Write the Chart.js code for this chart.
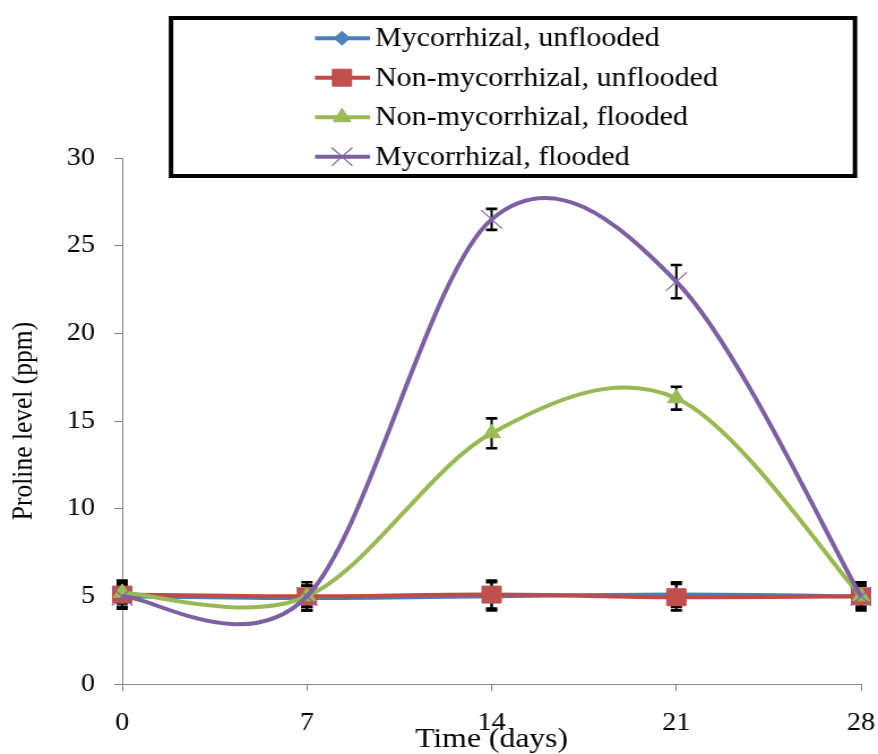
<!DOCTYPE html>
<html><head><meta charset="utf-8">
<script src="https://cdn.jsdelivr.net/npm/chart.js@4/dist/chart.umd.min.js"></script>
<style>html,body{margin:0;padding:0;background:#fff;overflow:hidden}canvas{display:block}</style>
</head>
<body>
<canvas id="c" width="776" height="754" style="width:878px;height:754px"></canvas>
<script>
const FONT = "'Liberation Serif', 'Times New Roman', serif";
const SX = 878 / 776;

// ---- data ----
const days = [0, 7, 14, 21, 28];
const yTickValues = [0, 5, 10, 15, 20, 25, 30];
const seriesLabels = ['Mycorrhizal, unflooded', 'Non-mycorrhizal, unflooded', 'Non-mycorrhizal, flooded', 'Mycorrhizal, flooded'];
const mycUnflooded     = [5.0, 4.9, 5.0, 5.1, 5.0];
const nonMycUnflooded  = [5.1, 5.0, 5.1, 4.95, 5.0];
const nonMycFlooded    = [5.2, 5.0, 14.3, 16.3, 5.0];
const mycFlooded       = [5.0, 5.0, 26.5, 22.95, 5.0];
const errMycUnflooded    = [0.7, 0.7, 0.8, 0.7, 0.7];
const errNonMycUnflooded = [0.8, 0.8, 0.8, 0.75, 0.8];
const errNonMycFlooded   = [0.6, 0.6, 0.85, 0.65, 0.6];
const errMycFlooded      = [0.6, 0.6, 0.6, 0.95, 0.6];

const values = [mycUnflooded, nonMycUnflooded, nonMycFlooded, mycFlooded];
const errors = [errMycUnflooded, errNonMycUnflooded, errNonMycFlooded, errMycFlooded];

// ---- styles ----
const lineColors = ['#4A7EBB', '#BE4B48', '#98B954', '#7D60A0'];
const markerColors = ['#4F81BD', '#C0504D', '#9BBB59', '#8064A2'];
const markerStyles = ['rectRot', 'rect', 'triangle', 'crossRot'];
const markerRadii = [7, 12, 9, 13];

const datasets = values.map((vals, i) => ({
  label: seriesLabels[i],
  data: days.map((d, j) => ({ x: d, y: vals[j] })),
  borderColor: lineColors[i],
  backgroundColor: markerColors[i],
  borderWidth: 4,
  pointStyle: markerStyles[i],
  pointRadius: markerRadii[i],
  pointBackgroundColor: markerColors[i],
  pointBorderColor: markerColors[i],
  pointBorderWidth: i === 3 ? 1.2 : 1,
  tension: 0.5,
  order: 4 - i,
  clip: false
}));

// Smoothed line like the spreadsheet's (Catmull-Rom control points from the library's point positions)
const smoothCurve = {
  id: 'smoothCurve',
  afterDatasetsUpdate(chart) {
    chart.data.datasets.forEach((ds, i) => {
      const meta = chart.getDatasetMeta(i);
      const pts = meta.data;
      const n = pts.length;
      for (let j = 0; j < n; j++) {
        const p = pts[j];
        const prev = pts[Math.max(j - 1, 0)];
        const next = pts[Math.min(j + 1, n - 1)];
        const dx = (next.x - prev.x) / 6, dy = (next.y - prev.y) / 6;
        p.cp1x = p.x - dx; p.cp1y = p.y - dy;
        p.cp2x = p.x + dx; p.cp2y = p.y + dy;
      }
      if (meta.dataset) meta.dataset._pointsUpdated = true;
    });
  }
};

const errorBars = {
  id: 'errorBars',
  beforeDatasetsDraw(chart) {
    const ctx = chart.ctx, ys = chart.scales.y;
    ctx.save();
    ctx.strokeStyle = '#000';
    chart.data.datasets.forEach((ds, i) => {
      const meta = chart.getDatasetMeta(i);
      meta.data.forEach((pt, j) => {
        const v = values[i][j], e = errors[i][j];
        const x = pt.x, y1 = ys.getPixelForValue(v + e), y2 = ys.getPixelForValue(v - e);
        ctx.lineWidth = 2;
        ctx.beginPath(); ctx.moveTo(x, y1); ctx.lineTo(x, y2); ctx.stroke();
        ctx.lineWidth = 2.6;
        ctx.beginPath();
        ctx.moveTo(x - 5, y1); ctx.lineTo(x + 5, y1);
        ctx.moveTo(x - 5, y2); ctx.lineTo(x + 5, y2);
        ctx.stroke();
      });
    });
    ctx.restore();
  }
};

const boxLegend = {
  id: 'boxLegend',
  afterDraw(chart) {
    const ctx = chart.ctx;
    ctx.save();
    const L = 171 / SX, R = 855 / SX, T = 18, B = 176;
    ctx.fillStyle = '#fff';
    ctx.fillRect(L, T, R - L, B - T);
    ctx.lineWidth = 4; ctx.strokeStyle = '#000';
    ctx.strokeRect(L, T, R - L, B - T);
    const baselines = [46, 85.5, 125, 164.5];
    const x1 = 315 / SX, x2 = 370 / SX, xm = 342 / SX, xt = 375 / SX;
    seriesLabels.forEach((lab, i) => {
      const yl = baselines[i] - 7.8;
      ctx.strokeStyle = lineColors[i]; ctx.lineWidth = 4;
      ctx.beginPath(); ctx.moveTo(x1, yl); ctx.lineTo(x2, yl); ctx.stroke();
      ctx.fillStyle = markerColors[i]; ctx.strokeStyle = markerColors[i];
      ctx.lineWidth = i === 3 ? 1.2 : 1;
      if (Chart.helpers && Chart.helpers.drawPoint) {
        Chart.helpers.drawPoint(ctx, { pointStyle: markerStyles[i], radius: markerRadii[i], rotation: 0, borderWidth: ctx.lineWidth }, xm, yl);
      }
      ctx.fillStyle = '#000';
      ctx.font = '26.5px ' + FONT;
      ctx.textBaseline = 'alphabetic';
      ctx.textAlign = 'left';
      ctx.fillText(lab, xt, baselines[i]);
    });
    ctx.restore();
  }
};

const axisColor = '#868686';
new Chart(document.getElementById('c'), {
  type: 'line',
  data: { datasets },
  options: {
    responsive: false,
    devicePixelRatio: 1,
    animation: false,
    layout: { padding: { left: 0, top: 158, right: 15, bottom: 0 } },
    plugins: { legend: { display: false }, tooltip: { enabled: false } },
    scales: {
      x: {
        type: 'linear', min: 0, max: 28,
        afterBuildTicks(s) { s.ticks = days.map(v => ({ value: v })); },
        afterFit(s) { s.height = 70; s.paddingLeft = 0; s.paddingRight = 0; },
        grid: { drawOnChartArea: false, drawTicks: true, tickLength: 7, color: axisColor, lineWidth: 1 },
        border: { color: axisColor, width: 1 },
        ticks: { font: { family: FONT, size: 25 }, color: '#000', padding: 17, maxRotation: 0, autoSkip: false },
        title: { display: true, text: 'Time (days)', font: { family: FONT, size: 28, lineHeight: 1 }, color: '#000', padding: { top: 7, bottom: 0 } }
      },
      y: {
        type: 'linear', min: 0, max: 30,
        afterBuildTicks(s) { s.ticks = yTickValues.map(v => ({ value: v })); },
        afterFit(s) { s.width = 108; s.paddingTop = 0; s.paddingBottom = 0; },
        grid: { drawOnChartArea: false, drawTicks: true, tickLength: 7, color: axisColor, lineWidth: 1 },
        border: { color: axisColor, width: 1 },
        ticks: { font: { family: FONT, size: 25 }, color: '#000', padding: 17 },
        title: { display: true, text: 'Proline level (ppm)', font: { family: FONT, size: 25.5, lineHeight: 1 }, color: '#000', padding: { top: 8.5, bottom: 0 } }
      }
    }
  },
  plugins: [smoothCurve, errorBars, boxLegend]
});
</script>
</body></html>
